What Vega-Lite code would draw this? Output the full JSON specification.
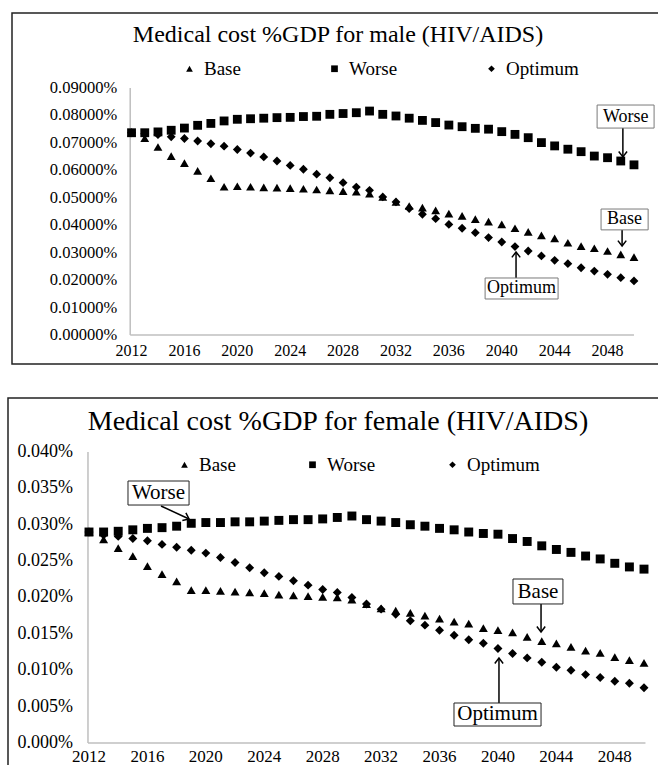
{
  "$schema": "https://vega.github.io/schema/vega-lite/v6.json",
  "padding": {"left": 7, "top": 12, "right": 0, "bottom": 0},
  "background": "white",
  "spacing": 34,
  "bounds": "flush",
  "center": true,
  "resolve": {"scale": {"shape": "independent", "x": "independent", "y": "independent"}, "legend": {"shape": "independent"}},
  "config": {"view": {"stroke": "#222", "strokeWidth": 1.5}, "font": "Liberation Serif"},
  "datasets": {
    "male": [
      {"year": 2012, "Base": 0.000737, "Worse": 0.000737, "Optimum": 0.000737},
      {"year": 2013, "Base": 0.000717, "Worse": 0.000737, "Optimum": 0.000733},
      {"year": 2014, "Base": 0.000685, "Worse": 0.000740, "Optimum": 0.000730},
      {"year": 2015, "Base": 0.000652, "Worse": 0.000746, "Optimum": 0.000722},
      {"year": 2016, "Base": 0.000626, "Worse": 0.000754, "Optimum": 0.000716},
      {"year": 2017, "Base": 0.000598, "Worse": 0.000764, "Optimum": 0.000707},
      {"year": 2018, "Base": 0.000571, "Worse": 0.000771, "Optimum": 0.000697},
      {"year": 2019, "Base": 0.000540, "Worse": 0.000780, "Optimum": 0.000688},
      {"year": 2020, "Base": 0.000542, "Worse": 0.000786, "Optimum": 0.000676},
      {"year": 2021, "Base": 0.000540, "Worse": 0.000788, "Optimum": 0.000663},
      {"year": 2022, "Base": 0.000538, "Worse": 0.000790, "Optimum": 0.000649},
      {"year": 2023, "Base": 0.000537, "Worse": 0.000792, "Optimum": 0.000634},
      {"year": 2024, "Base": 0.000535, "Worse": 0.000793, "Optimum": 0.000618},
      {"year": 2025, "Base": 0.000533, "Worse": 0.000796, "Optimum": 0.000604},
      {"year": 2026, "Base": 0.000530, "Worse": 0.000797, "Optimum": 0.000586},
      {"year": 2027, "Base": 0.000527, "Worse": 0.000804, "Optimum": 0.000573},
      {"year": 2028, "Base": 0.000524, "Worse": 0.000807, "Optimum": 0.000555},
      {"year": 2029, "Base": 0.000522, "Worse": 0.000810, "Optimum": 0.000539},
      {"year": 2030, "Base": 0.000515, "Worse": 0.000816, "Optimum": 0.000527},
      {"year": 2031, "Base": 0.000503, "Worse": 0.000804, "Optimum": 0.000503},
      {"year": 2032, "Base": 0.000485, "Worse": 0.000798, "Optimum": 0.000485},
      {"year": 2033, "Base": 0.000470, "Worse": 0.000790, "Optimum": 0.000461},
      {"year": 2034, "Base": 0.000464, "Worse": 0.000782, "Optimum": 0.000440},
      {"year": 2035, "Base": 0.000454, "Worse": 0.000774, "Optimum": 0.000424},
      {"year": 2036, "Base": 0.000442, "Worse": 0.000765, "Optimum": 0.000403},
      {"year": 2037, "Base": 0.000434, "Worse": 0.000759, "Optimum": 0.000389},
      {"year": 2038, "Base": 0.000422, "Worse": 0.000753, "Optimum": 0.000373},
      {"year": 2039, "Base": 0.000413, "Worse": 0.000750, "Optimum": 0.000355},
      {"year": 2040, "Base": 0.000403, "Worse": 0.000741, "Optimum": 0.000339},
      {"year": 2041, "Base": 0.000389, "Worse": 0.000731, "Optimum": 0.000322},
      {"year": 2042, "Base": 0.000376, "Worse": 0.000719, "Optimum": 0.000306},
      {"year": 2043, "Base": 0.000363, "Worse": 0.000701, "Optimum": 0.000288},
      {"year": 2044, "Base": 0.000352, "Worse": 0.000689, "Optimum": 0.000272},
      {"year": 2045, "Base": 0.000336, "Worse": 0.000677, "Optimum": 0.000260},
      {"year": 2046, "Base": 0.000324, "Worse": 0.000668, "Optimum": 0.000245},
      {"year": 2047, "Base": 0.000316, "Worse": 0.000652, "Optimum": 0.000233},
      {"year": 2048, "Base": 0.000306, "Worse": 0.000646, "Optimum": 0.000221},
      {"year": 2049, "Base": 0.000294, "Worse": 0.000634, "Optimum": 0.000209},
      {"year": 2050, "Base": 0.000284, "Worse": 0.000620, "Optimum": 0.000197}
    ],
    "female": [
      {"year": 2012, "Base": 0.000290, "Worse": 0.000290, "Optimum": 0.000290},
      {"year": 2013, "Base": 0.000280, "Worse": 0.000290, "Optimum": 0.000286},
      {"year": 2014, "Base": 0.000268, "Worse": 0.000291, "Optimum": 0.000284},
      {"year": 2015, "Base": 0.000257, "Worse": 0.000293, "Optimum": 0.000281},
      {"year": 2016, "Base": 0.000243, "Worse": 0.000295, "Optimum": 0.000278},
      {"year": 2017, "Base": 0.000232, "Worse": 0.000296, "Optimum": 0.000273},
      {"year": 2018, "Base": 0.000222, "Worse": 0.000298, "Optimum": 0.000269},
      {"year": 2019, "Base": 0.000210, "Worse": 0.000302, "Optimum": 0.000265},
      {"year": 2020, "Base": 0.000210, "Worse": 0.000303, "Optimum": 0.000261},
      {"year": 2021, "Base": 0.000209, "Worse": 0.000303, "Optimum": 0.000255},
      {"year": 2022, "Base": 0.000208, "Worse": 0.000304, "Optimum": 0.000248},
      {"year": 2023, "Base": 0.000207, "Worse": 0.000304, "Optimum": 0.000241},
      {"year": 2024, "Base": 0.000206, "Worse": 0.000305, "Optimum": 0.000234},
      {"year": 2025, "Base": 0.000204, "Worse": 0.000306, "Optimum": 0.000229},
      {"year": 2026, "Base": 0.000203, "Worse": 0.000307, "Optimum": 0.000223},
      {"year": 2027, "Base": 0.000202, "Worse": 0.000307, "Optimum": 0.000217},
      {"year": 2028, "Base": 0.000201, "Worse": 0.000308, "Optimum": 0.000211},
      {"year": 2029, "Base": 0.000200, "Worse": 0.000310, "Optimum": 0.000207},
      {"year": 2030, "Base": 0.000197, "Worse": 0.000312, "Optimum": 0.000200},
      {"year": 2031, "Base": 0.000191, "Worse": 0.000307, "Optimum": 0.000191},
      {"year": 2032, "Base": 0.000185, "Worse": 0.000305, "Optimum": 0.000184},
      {"year": 2033, "Base": 0.000182, "Worse": 0.000303, "Optimum": 0.000177},
      {"year": 2034, "Base": 0.000179, "Worse": 0.000300, "Optimum": 0.000168},
      {"year": 2035, "Base": 0.000175, "Worse": 0.000298, "Optimum": 0.000162},
      {"year": 2036, "Base": 0.000171, "Worse": 0.000295, "Optimum": 0.000155},
      {"year": 2037, "Base": 0.000167, "Worse": 0.000293, "Optimum": 0.000148},
      {"year": 2038, "Base": 0.000164, "Worse": 0.000290, "Optimum": 0.000142},
      {"year": 2039, "Base": 0.000158, "Worse": 0.000288, "Optimum": 0.000137},
      {"year": 2040, "Base": 0.000155, "Worse": 0.000287, "Optimum": 0.000130},
      {"year": 2041, "Base": 0.000152, "Worse": 0.000281, "Optimum": 0.000123},
      {"year": 2042, "Base": 0.000146, "Worse": 0.000277, "Optimum": 0.000117},
      {"year": 2043, "Base": 0.000140, "Worse": 0.000271, "Optimum": 0.000111},
      {"year": 2044, "Base": 0.000137, "Worse": 0.000266, "Optimum": 0.000104},
      {"year": 2045, "Base": 0.000132, "Worse": 0.000262, "Optimum": 0.000100},
      {"year": 2046, "Base": 0.000127, "Worse": 0.000257, "Optimum": 0.000094},
      {"year": 2047, "Base": 0.000124, "Worse": 0.000253, "Optimum": 0.000090},
      {"year": 2048, "Base": 0.000118, "Worse": 0.000247, "Optimum": 0.000085},
      {"year": 2049, "Base": 0.000114, "Worse": 0.000242, "Optimum": 0.000082},
      {"year": 2050, "Base": 0.000110, "Worse": 0.000239, "Optimum": 0.000076}
    ],
    "xticks": [
      {"year": 2012}, {"year": 2016}, {"year": 2020}, {"year": 2024}, {"year": 2028},
      {"year": 2032}, {"year": 2036}, {"year": 2040}, {"year": 2044}, {"year": 2048}
    ],
    "yticksM": [
      {"v": 0}, {"v": 0.0001}, {"v": 0.0002}, {"v": 0.0003}, {"v": 0.0004},
      {"v": 0.0005}, {"v": 0.0006}, {"v": 0.0007}, {"v": 0.0008}, {"v": 0.0009}
    ],
    "yticksF": [
      {"v": 0}, {"v": 0.00005}, {"v": 0.0001}, {"v": 0.00015}, {"v": 0.0002},
      {"v": 0.00025}, {"v": 0.0003}, {"v": 0.00035}, {"v": 0.0004}
    ],
    "axesM": [
      {"x": 2011.9, "x2": 2011.9, "y": 0, "y2": 0.0009},
      {"x": 2011.9, "x2": 2050, "y": 0, "y2": 0}
    ],
    "axesF": [
      {"x": 2011.93, "x2": 2011.93, "y": 0, "y2": 0.0004},
      {"x": 2011.93, "x2": 2050.1, "y": 0, "y2": 0}
    ],
    "annM": [
      {"label": "Worse", "tx": 2049.37, "ty": 0.000796, "x1": 2047.21, "x2": 2051.52, "y1": 0.000838, "y2": 0.000754},
      {"label": "Base", "tx": 2049.29, "ty": 0.000421, "x1": 2047.51, "x2": 2051.07, "y1": 0.000459, "y2": 0.000383},
      {"label": "Optimum", "tx": 2041.5, "ty": 0.0001695, "x1": 2038.74, "x2": 2044.26, "y1": 0.0002077, "y2": 0.0001312}
    ],
    "arrM": [
      {"x": 2049.16, "y": 0.000754, "x2": 2049.16, "y2": 0.000649, "dir": "down"},
      {"x": 2049.1, "y": 0.000383, "x2": 2049.1, "y2": 0.000324, "dir": "down"},
      {"x": 2041.08, "y": 0.0002077, "x2": 2041.08, "y2": 0.0003025, "dir": "up"}
    ],
    "annF": [
      {"label": "Worse", "tx": 2016.76, "ty": 0.0003436, "x1": 2014.67, "x2": 2018.85, "y1": 0.0003601, "y2": 0.0003271},
      {"label": "Base", "tx": 2042.74, "ty": 0.0002082, "x1": 2041.03, "x2": 2044.45, "y1": 0.0002254, "y2": 0.0001911},
      {"label": "Optimum", "tx": 2039.97, "ty": 0.00003918, "x1": 2036.99, "x2": 2042.95, "y1": 0.00005498, "y2": 0.00002337}
    ],
    "arrF": [
      {"x": 2016.93, "y": 0.0003258, "x2": 2018.85, "y2": 0.0003079, "dir": "diag"},
      {"x": 2042.95, "y": 0.0001911, "x2": 2042.95, "y2": 0.0001526, "dir": "down"},
      {"x": 2040.07, "y": 0.00005498, "x2": 2040.07, "y2": 0.0001168, "dir": "up"}
    ]
  },
  "vconcat": [
    {
      "width": 652,
      "height": 351,
      "title": {"text": "Medical cost %GDP for male (HIV/AIDS)", "font": "Liberation Serif", "fontSize": 24, "fontWeight": "normal", "color": "#000", "anchor": "middle", "frame": "group", "baseline": "alphabetic", "offset": -53},
      "layer": [
        {
          "data": {"name": "axesM"},
          "mark": {"type": "rule", "color": "#bfbfbf", "strokeWidth": 1.5},
          "encoding": {
            "x": {"field": "x", "type": "quantitative", "scale": {"domain": [2002.96, 2052.27], "nice": false, "zero": false}, "axis": null},
            "x2": {"field": "x2"},
            "y": {"field": "y", "type": "quantitative", "scale": {"domain": [-0.0001057, 0.0011733], "nice": false, "zero": false}, "axis": null},
            "y2": {"field": "y2"}
          }
        },
        {
          "data": {"name": "yticksM"},
          "mark": {"type": "text", "font": "Liberation Serif", "fontSize": 16.5, "color": "#000", "align": "right", "baseline": "middle", "dx": -13},
          "encoding": {
            "x": {"datum": 2011.9, "type": "quantitative", "scale": {"domain": [2002.96, 2052.27], "nice": false, "zero": false}, "axis": null},
            "y": {"field": "v", "type": "quantitative", "scale": {"domain": [-0.0001057, 0.0011733], "nice": false, "zero": false}, "axis": null},
            "text": {"field": "v", "type": "quantitative", "format": ".5%"}
          }
        },
        {
          "data": {"name": "xticks"},
          "mark": {"type": "text", "font": "Liberation Serif", "fontSize": 16, "color": "#000", "align": "center", "baseline": "middle", "dy": 16},
          "encoding": {
            "x": {"field": "year", "type": "quantitative", "scale": {"domain": [2002.96, 2052.27], "nice": false, "zero": false}, "axis": null},
            "y": {"datum": 0, "type": "quantitative", "scale": {"domain": [-0.0001057, 0.0011733], "nice": false, "zero": false}, "axis": null},
            "text": {"field": "year", "type": "quantitative", "format": "d"}
          }
        },
        {
          "data": {"name": "male"},
          "transform": [{"fold": ["Base", "Worse", "Optimum"], "as": ["scenario", "value"]}],
          "mark": {"type": "point", "filled": true, "opacity": 1, "color": "#000", "size": 78},
          "encoding": {
            "x": {"field": "year", "type": "quantitative", "scale": {"domain": [2002.96, 2052.27], "nice": false, "zero": false}, "axis": null},
            "y": {"field": "value", "type": "quantitative", "scale": {"domain": [-0.0001057, 0.0011733], "nice": false, "zero": false}, "axis": null},
            "shape": {"field": "scenario", "type": "nominal", "scale": {"domain": ["Base", "Worse", "Optimum"], "range": ["triangle-up", "square", "diamond"]},
              "legend": {"orient": "none", "legendX": 168, "legendY": 46, "direction": "horizontal", "title": null, "columnPadding": 84, "labelFont": "Liberation Serif", "labelFontSize": 19, "labelColor": "#000", "labelOffset": 5, "symbolSize": 45, "symbolFillColor": "#000", "symbolStrokeWidth": 0, "padding": 0}}
          }
        },
        {
          "data": {"name": "arrM"},
          "mark": {"type": "rule", "color": "#000", "strokeWidth": 1.5},
          "encoding": {
            "x": {"field": "x", "type": "quantitative", "scale": {"domain": [2002.96, 2052.27], "nice": false, "zero": false}, "axis": null},
            "x2": {"field": "x2"},
            "y": {"field": "y", "type": "quantitative", "scale": {"domain": [-0.0001057, 0.0011733], "nice": false, "zero": false}, "axis": null},
            "y2": {"field": "y2"}
          }
        },
        {
          "data": {"name": "arrM"},
          "transform": [{"filter": "datum.dir == 'down'"}],
          "mark": {"type": "point", "shape": "M-1,-1.3L0,0L1,-1.3", "filled": false, "color": "#000", "strokeWidth": 1.5, "size": 70, "opacity": 1},
          "encoding": {
            "x": {"field": "x2", "type": "quantitative", "scale": {"domain": [2002.96, 2052.27], "nice": false, "zero": false}, "axis": null},
            "y": {"field": "y2", "type": "quantitative", "scale": {"domain": [-0.0001057, 0.0011733], "nice": false, "zero": false}, "axis": null}
          }
        },
        {
          "data": {"name": "arrM"},
          "transform": [{"filter": "datum.dir == 'up'"}],
          "mark": {"type": "point", "shape": "M-1,1.3L0,0L1,1.3", "filled": false, "color": "#000", "strokeWidth": 1.5, "size": 70, "opacity": 1},
          "encoding": {
            "x": {"field": "x2", "type": "quantitative", "scale": {"domain": [2002.96, 2052.27], "nice": false, "zero": false}, "axis": null},
            "y": {"field": "y2", "type": "quantitative", "scale": {"domain": [-0.0001057, 0.0011733], "nice": false, "zero": false}, "axis": null}
          }
        },
        {
          "data": {"name": "annM"},
          "mark": {"type": "rect", "fill": "#fff", "stroke": "#7a7a7a", "strokeWidth": 1},
          "encoding": {
            "x": {"field": "x1", "type": "quantitative", "scale": {"domain": [2002.96, 2052.27], "nice": false, "zero": false}, "axis": null},
            "x2": {"field": "x2"},
            "y": {"field": "y1", "type": "quantitative", "scale": {"domain": [-0.0001057, 0.0011733], "nice": false, "zero": false}, "axis": null},
            "y2": {"field": "y2"}
          }
        },
        {
          "data": {"name": "annM"},
          "mark": {"type": "text", "font": "Liberation Serif", "fontSize": 18, "color": "#000", "align": "center", "baseline": "middle"},
          "encoding": {
            "x": {"field": "tx", "type": "quantitative", "scale": {"domain": [2002.96, 2052.27], "nice": false, "zero": false}, "axis": null},
            "y": {"field": "ty", "type": "quantitative", "scale": {"domain": [-0.0001057, 0.0011733], "nice": false, "zero": false}, "axis": null},
            "text": {"field": "label"}
          }
        }
      ]
    },
    {
      "width": 660,
      "height": 380,
      "title": {"text": "Medical cost %GDP for female (HIV/AIDS)", "font": "Liberation Serif", "fontSize": 28, "fontWeight": "normal", "color": "#000", "anchor": "middle", "frame": "group", "baseline": "alphabetic", "offset": -60},
      "layer": [
        {
          "data": {"name": "axesF"},
          "mark": {"type": "rule", "color": "#bfbfbf", "strokeWidth": 1.5},
          "encoding": {
            "x": {"field": "x", "type": "quantitative", "scale": {"domain": [2006.454, 2051.643], "nice": false, "zero": false}, "axis": null},
            "x2": {"field": "x2"},
            "y": {"field": "y", "type": "quantitative", "scale": {"domain": [-0.0000481, 0.0004742], "nice": false, "zero": false}, "axis": null},
            "y2": {"field": "y2"}
          }
        },
        {
          "data": {"name": "yticksF"},
          "mark": {"type": "text", "font": "Liberation Serif", "fontSize": 18, "color": "#000", "align": "right", "baseline": "middle", "dx": -15},
          "encoding": {
            "x": {"datum": 2011.93, "type": "quantitative", "scale": {"domain": [2006.454, 2051.643], "nice": false, "zero": false}, "axis": null},
            "y": {"field": "v", "type": "quantitative", "scale": {"domain": [-0.0000481, 0.0004742], "nice": false, "zero": false}, "axis": null},
            "text": {"field": "v", "type": "quantitative", "format": ".3%"}
          }
        },
        {
          "data": {"name": "xticks"},
          "mark": {"type": "text", "font": "Liberation Serif", "fontSize": 17, "color": "#000", "align": "center", "baseline": "middle", "dy": 14},
          "encoding": {
            "x": {"field": "year", "type": "quantitative", "scale": {"domain": [2006.454, 2051.643], "nice": false, "zero": false}, "axis": null},
            "y": {"datum": 0, "type": "quantitative", "scale": {"domain": [-0.0000481, 0.0004742], "nice": false, "zero": false}, "axis": null},
            "text": {"field": "year", "type": "quantitative", "format": "d"}
          }
        },
        {
          "data": {"name": "female"},
          "transform": [{"fold": ["Base", "Worse", "Optimum"], "as": ["scenario", "value"]}],
          "mark": {"type": "point", "filled": true, "opacity": 1, "color": "#000", "size": 80},
          "encoding": {
            "x": {"field": "year", "type": "quantitative", "scale": {"domain": [2006.454, 2051.643], "nice": false, "zero": false}, "axis": null},
            "y": {"field": "value", "type": "quantitative", "scale": {"domain": [-0.0000481, 0.0004742], "nice": false, "zero": false}, "axis": null},
            "shape": {"field": "scenario", "type": "nominal", "scale": {"domain": ["Base", "Worse", "Optimum"], "range": ["triangle-up", "square", "diamond"]},
              "legend": {"orient": "none", "legendX": 167, "legendY": 57, "direction": "horizontal", "title": null, "columnPadding": 67, "labelFont": "Liberation Serif", "labelFontSize": 19, "labelColor": "#000", "labelOffset": 5, "symbolSize": 45, "symbolFillColor": "#000", "symbolStrokeWidth": 0, "padding": 0}}
          }
        },
        {
          "data": {"name": "arrF"},
          "mark": {"type": "rule", "color": "#000", "strokeWidth": 1.5},
          "encoding": {
            "x": {"field": "x", "type": "quantitative", "scale": {"domain": [2006.454, 2051.643], "nice": false, "zero": false}, "axis": null},
            "x2": {"field": "x2"},
            "y": {"field": "y", "type": "quantitative", "scale": {"domain": [-0.0000481, 0.0004742], "nice": false, "zero": false}, "axis": null},
            "y2": {"field": "y2"}
          }
        },
        {
          "data": {"name": "arrF"},
          "transform": [{"filter": "datum.dir == 'down'"}],
          "mark": {"type": "point", "shape": "M-1,-1.3L0,0L1,-1.3", "filled": false, "color": "#000", "strokeWidth": 1.5, "size": 70, "opacity": 1},
          "encoding": {
            "x": {"field": "x2", "type": "quantitative", "scale": {"domain": [2006.454, 2051.643], "nice": false, "zero": false}, "axis": null},
            "y": {"field": "y2", "type": "quantitative", "scale": {"domain": [-0.0000481, 0.0004742], "nice": false, "zero": false}, "axis": null}
          }
        },
        {
          "data": {"name": "arrF"},
          "transform": [{"filter": "datum.dir == 'up'"}],
          "mark": {"type": "point", "shape": "M-1,1.3L0,0L1,1.3", "filled": false, "color": "#000", "strokeWidth": 1.5, "size": 70, "opacity": 1},
          "encoding": {
            "x": {"field": "x2", "type": "quantitative", "scale": {"domain": [2006.454, 2051.643], "nice": false, "zero": false}, "axis": null},
            "y": {"field": "y2", "type": "quantitative", "scale": {"domain": [-0.0000481, 0.0004742], "nice": false, "zero": false}, "axis": null}
          }
        },
        {
          "data": {"name": "arrF"},
          "transform": [{"filter": "datum.dir == 'diag'"}],
          "mark": {"type": "point", "shape": "M-1,-1.3L0,0L1,-1.3", "angle": 295, "filled": false, "color": "#000", "strokeWidth": 1.5, "size": 70, "opacity": 1},
          "encoding": {
            "x": {"field": "x2", "type": "quantitative", "scale": {"domain": [2006.454, 2051.643], "nice": false, "zero": false}, "axis": null},
            "y": {"field": "y2", "type": "quantitative", "scale": {"domain": [-0.0000481, 0.0004742], "nice": false, "zero": false}, "axis": null}
          }
        },
        {
          "data": {"name": "annF"},
          "mark": {"type": "rect", "fill": "#fff", "stroke": "#222", "strokeWidth": 1},
          "encoding": {
            "x": {"field": "x1", "type": "quantitative", "scale": {"domain": [2006.454, 2051.643], "nice": false, "zero": false}, "axis": null},
            "x2": {"field": "x2"},
            "y": {"field": "y1", "type": "quantitative", "scale": {"domain": [-0.0000481, 0.0004742], "nice": false, "zero": false}, "axis": null},
            "y2": {"field": "y2"}
          }
        },
        {
          "data": {"name": "annF"},
          "mark": {"type": "text", "font": "Liberation Serif", "fontSize": 21, "color": "#000", "align": "center", "baseline": "middle"},
          "encoding": {
            "x": {"field": "tx", "type": "quantitative", "scale": {"domain": [2006.454, 2051.643], "nice": false, "zero": false}, "axis": null},
            "y": {"field": "ty", "type": "quantitative", "scale": {"domain": [-0.0000481, 0.0004742], "nice": false, "zero": false}, "axis": null},
            "text": {"field": "label"}
          }
        }
      ]
    }
  ]
}
